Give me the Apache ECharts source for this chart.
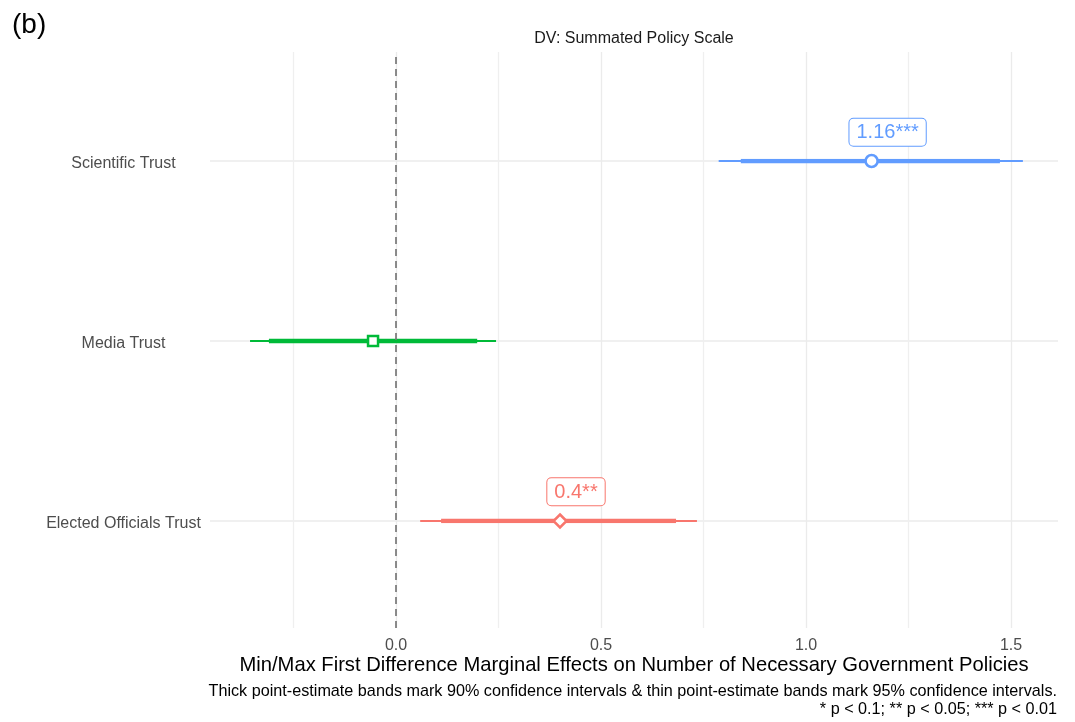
<!DOCTYPE html>
<html>
<head>
<meta charset="utf-8">
<script src="https://cdn.jsdelivr.net/npm/echarts@6/dist/echarts.min.js"></script>
<style>
  html, body { margin: 0; padding: 0; background: #fff; }
  #chart { width: 1075px; height: 722px; }
</style>
</head>
<body>
<div id="chart"></div>
<script>
// Predictors, listed bottom to top
const categories = ['Elected Officials Trust', 'Media Trust', 'Scientific Trust'];
// Min/max first-difference point estimates
const estimates = [0.4, -0.056, 1.16];
// 90% confidence bands (thick)
const ci90Low = [0.110, -0.310, 0.841];
const ci90High = [0.683, 0.198, 1.473];
// 95% confidence bands (thin)
const ci95Low = [0.059, -0.356, 0.787];
const ci95High = [0.734, 0.244, 1.529];
// Significance stars
const stars = ['**', '', '***'];
// Colours and point shapes per predictor
const colors = ['#F8766D', '#00BA38', '#619CFF'];
const shapes = ['diamond', 'rect', 'circle'];
const shapeSizes = [13, 10, 12];
// Tick labels on the x axis
const xTicks = [0, 0.5, 1, 1.5];
const zeroLine = 0;

const FONT = "'Liberation Sans', Arial, Helvetica, sans-serif";
const chart = echarts.init(document.getElementById('chart'), null, { renderer: 'canvas' });

const series = [];
categories.forEach((cat, i) => {
  series.push({
    type: 'line', xAxisIndex: 1, yAxisIndex: 1, silent: true, symbol: 'none', z: 2,
    data: [[ci95Low[i], cat], [ci95High[i], cat]],
    lineStyle: { color: colors[i], width: 2 }
  });
  series.push({
    type: 'line', xAxisIndex: 1, yAxisIndex: 1, silent: true, symbol: 'none', z: 3,
    data: [[ci90Low[i], cat], [ci90High[i], cat]],
    lineStyle: { color: colors[i], width: 4.5 }
  });
  series.push({
    type: 'scatter', xAxisIndex: 1, yAxisIndex: 1, silent: true, z: 4,
    symbol: shapes[i], symbolSize: shapeSizes[i],
    data: [[estimates[i], cat]],
    itemStyle: { color: '#ffffff', borderColor: colors[i], borderWidth: 2.5, opacity: 1 },
    label: {
      show: stars[i] !== '',
      position: 'top', distance: 8, offset: [16, 0],
      formatter: () => String(estimates[i]) + stars[i],
      color: colors[i], fontFamily: FONT, fontSize: 20, lineHeight: 20,
      backgroundColor: '#ffffff', borderColor: colors[i], borderWidth: 1,
      borderRadius: 4, padding: [4, 7, 3, 7]
    }
  });
});

// Reference line at zero across the full panel
series.push({
  type: 'line', xAxisIndex: 0, yAxisIndex: 0, silent: true, symbol: 'none', z: 5,
  data: [[zeroLine, 0], [zeroLine, 1]],
  lineStyle: { color: '#777777', width: 1.7, type: [7, 5] }
});

const option = {
  backgroundColor: '#ffffff',
  animation: false,
  grid: [
    { left: 191, right: 17, top: 52, bottom: 94, containLabel: false },
    { left: 210, right: 17, top: 161, bottom: 201, containLabel: false }
  ],
  xAxis: [
    {
      type: 'value', gridIndex: 0, min: -0.5, max: 1.61463, interval: 0.25,
      axisLine: { show: false }, axisTick: { show: false },
      axisLabel: {
        color: '#4d4d4d', fontFamily: FONT, fontSize: 16, margin: 10,
        showMaxLabel: false,
        formatter: v => xTicks.some(t => Math.abs(t - v) < 1e-6) ? v.toFixed(1) : ''
      },
      splitLine: {
        show: true,
        lineStyle: {
          width: 1.3,
          color: ['rgba(0,0,0,0)', '#efefef', '#ebebeb', '#efefef', '#ebebeb',
                  '#efefef', '#ebebeb', '#efefef', '#ebebeb', 'rgba(0,0,0,0)']
        }
      }
    },
    {
      type: 'value', gridIndex: 1, min: -0.45366, max: 1.61463, show: false,
      splitLine: { show: false }
    }
  ],
  yAxis: [
    { type: 'value', gridIndex: 0, min: 0, max: 1, show: false, splitLine: { show: false } },
    {
      type: 'category', gridIndex: 1, data: categories, boundaryGap: false,
      axisLine: { show: false }, axisTick: { show: false },
      axisLabel: {
        align: 'center', margin: 86.5,
        formatter: v => '{c|' + v + '}',
        rich: { c: { color: '#4d4d4d', fontFamily: FONT, fontSize: 16, padding: [6, 0, 0, 0] } }
      },
      splitLine: { show: true, lineStyle: { color: '#ebebeb', width: 1.5 } }
    }
  ],
  graphic: [
    { type: 'text', left: 12, top: 11, style: { text: '(b)', font: '28px ' + FONT, fill: '#000' } },
    { type: 'text', x: 634, y: 39, style: { text: 'DV: Summated Policy Scale', font: '16px ' + FONT, fill: '#1a1a1a', textAlign: 'center', textVerticalAlign: 'middle' } },
    { type: 'text', x: 634, y: 665, style: { text: 'Min/Max First Difference Marginal Effects on Number of Necessary Government Policies', font: '20.2px ' + FONT, fill: '#000', textAlign: 'center', textVerticalAlign: 'middle' } },
    { type: 'text', x: 1057, y: 692, style: { text: 'Thick point-estimate bands mark 90% confidence intervals & thin point-estimate bands mark 95% confidence intervals.', font: '16.2px ' + FONT, fill: '#000', textAlign: 'right', textVerticalAlign: 'middle' } },
    { type: 'text', x: 1057, y: 710, style: { text: '* p < 0.1; ** p < 0.05; *** p < 0.01', font: '16.2px ' + FONT, fill: '#000', textAlign: 'right', textVerticalAlign: 'middle' } }
  ],
  series: series
};

chart.setOption(option);
</script>
</body>
</html>
